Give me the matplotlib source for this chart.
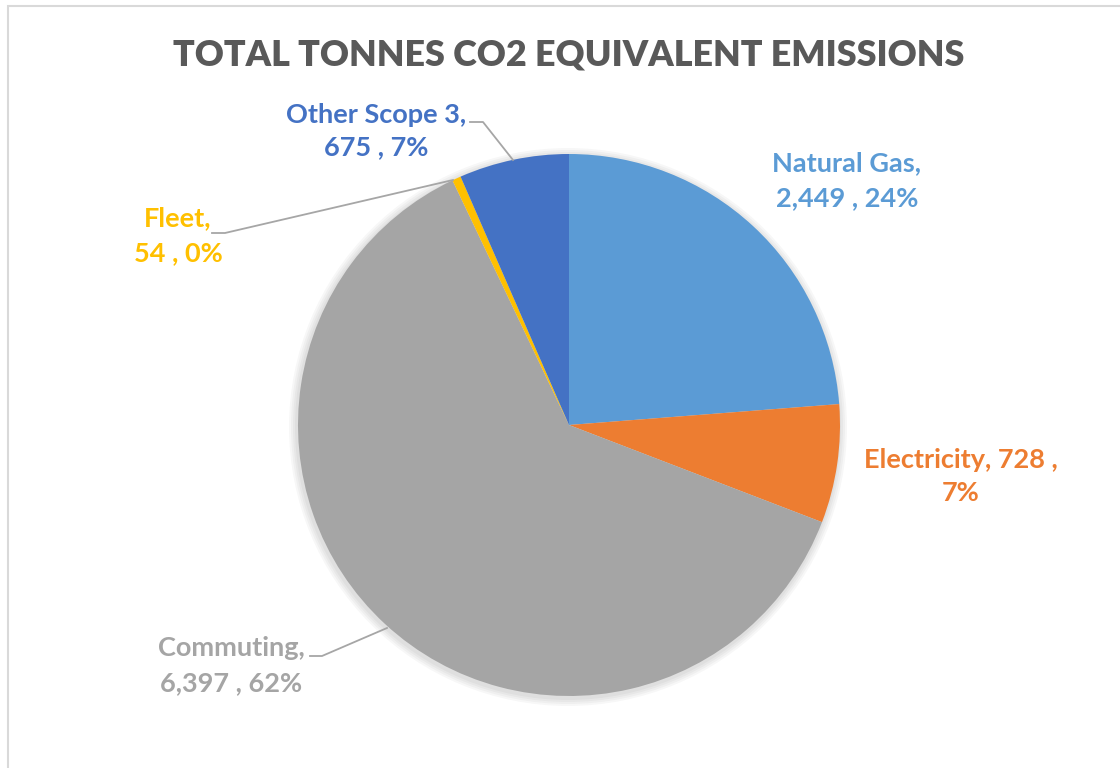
import matplotlib
matplotlib.use("Agg")
import matplotlib.pyplot as plt
from matplotlib.patches import Rectangle

categories = ["Natural Gas", "Electricity", "Commuting", "Fleet", "Other Scope 3"]
values = [2449, 728, 6397, 54, 675]
value_labels = ["2,449", "728", "6,397", "54", "675"]
pct_labels = ["24%", "7%", "62%", "0%", "7%"]
colors = ["#5B9BD5", "#ED7D31", "#A5A5A5", "#FFC000", "#4472C4"]
title = "TOTAL TONNES CO2 EQUIVALENT EMISSIONS"

W, H = 1120, 768
fig = plt.figure(figsize=(W / 100, H / 100), dpi=100)
ax = fig.add_axes([0, 0, 1, 1])
ax.set_xlim(0, W)
ax.set_ylim(0, H)
ax.set_aspect("equal")
ax.axis("off")

def Y(y):
    return H - y

# chart border
ax.add_patch(Rectangle((8, Y(1000)), 1300, 1000 - 6, fill=False,
                       edgecolor="#D9D9D9", linewidth=1.5))

cx, cy, r = 569, 425, 271
# soft shadow
for i, a in enumerate([0.03, 0.03, 0.03, 0.03]):
    ax.add_patch(plt.Circle((cx - 1, Y(cy) - 2), r + 2 + 2 * i, color="#000000",
                            alpha=a, linewidth=0, zorder=1))
ax.pie(values, colors=colors, startangle=90, counterclock=False,
       center=(cx, Y(cy)), radius=r, wedgeprops=dict(linewidth=0, zorder=2),
       frame=True)
ax.set_xlim(0, W)
ax.set_ylim(0, H)
ax.axis("off")

font = "Lato"
ax.text(569, Y(55), title, ha="center", va="center", fontsize=25.8,
        fontweight="heavy", color="#595959", family=font)

fs = 19.5
label_pos = {
    "Natural Gas": [(847, 163, "Natural Gas,"), (847, 198, "{v} , {p}")],
    "Electricity": [(961, 460, "Electricity, {v} ,"), (961, 493, "{p}")],
    "Commuting": [(231, 648, "Commuting,"), (231, 683, "{v} , {p}")],
    "Fleet": [(178, 218, "Fleet,"), (178, 253, "{v} , {p}")],
    "Other Scope 3": [(376, 115, "Other Scope 3,"), (376, 147, "{v} , {p}")],
}
for cat, v, p, c in zip(categories, value_labels, pct_labels, colors):
    for (x, y, t) in label_pos[cat]:
        ax.text(x, Y(y), t.format(v=v, p=p), ha="center", va="center",
                fontsize=fs, fontweight="bold", color=c, family=font)

# leader lines
lc = "#A6A6A6"
for pts in [[(470, 122), (483, 122), (513, 160)],
            [(212, 233), (225, 233), (453, 180)],
            [(310, 656), (322, 656), (387, 628)]]:
    xs = [p[0] for p in pts]
    ys = [Y(p[1]) for p in pts]
    ax.plot(xs, ys, color=lc, linewidth=1.3, zorder=3)

fig.savefig("out.png", dpi=100, facecolor="white")
